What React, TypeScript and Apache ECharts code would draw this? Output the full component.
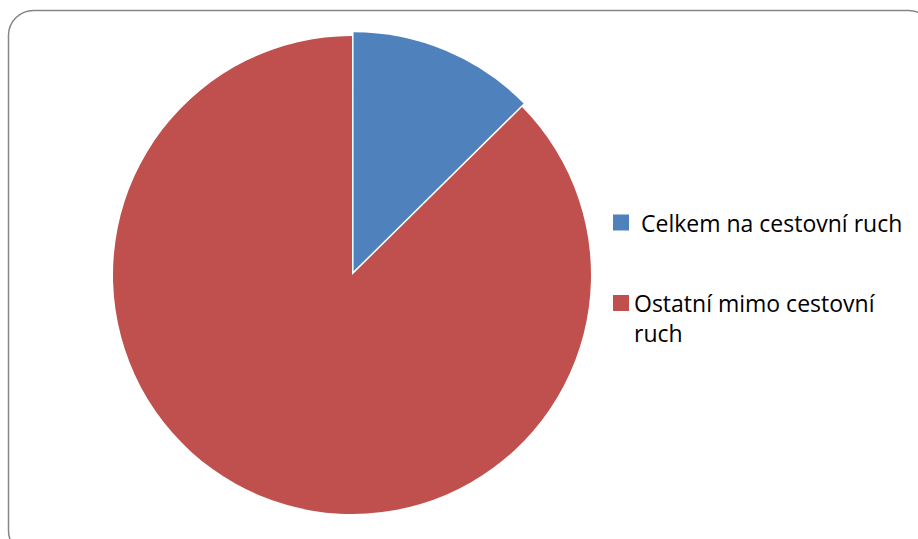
import React, { useEffect, useRef } from "react";
import * as echarts from "echarts";

const categories = ["Celkem na cestovní ruch", "Ostatní mimo cestovní ruch"];
const legendLabels = ["Celkem na cestovní ruch", " \nOstatní mimo cestovní\nruch"];
const values = [12.6, 87.4];
const colors = ["#4F81BD", "#C0504D"];

export default function App() {
  const ref = useRef<HTMLDivElement>(null);
  useEffect(() => {
    document.body.style.margin = "0";
    const chart = echarts.init(ref.current!, undefined, { renderer: "svg" });
    const font = "'Open Sans', 'Noto Sans', sans-serif";
    chart.setOption({
      animation: false,
      backgroundColor: "#ffffff",
      graphic: [
        {
          type: "rect",
          shape: { x: 8.5, y: 10.5, width: 925, height: 545, r: 25 },
          style: { fill: "none", stroke: "#868686", lineWidth: 1.5 },
          silent: true,
        },
      ],
      legend: [
        {
          data: [categories[0]],
          orient: "vertical",
          left: 613,
          top: 207.5,
          padding: 0,
          itemWidth: 16,
          itemHeight: 16,
          icon: "rect",
          selectedMode: false,
          formatter: () => legendLabels[0],
          textStyle: {
            fontFamily: font,
            fontSize: 23,
            lineHeight: 30,
            color: "#000",
            padding: [0, 0, 0, 7],
          },
        },
        {
          data: [categories[1]],
          orient: "vertical",
          left: 613,
          top: 258,
          padding: 0,
          itemWidth: 16,
          itemHeight: 16,
          icon: "rect",
          selectedMode: false,
          formatter: () => legendLabels[1],
          textStyle: {
            fontFamily: font,
            fontSize: 23,
            lineHeight: 30,
            color: "#000",
            padding: [0, 0, 0, 0],
          },
        },
      ],
      series: [
        {
          type: "pie",
          center: [352, 275],
          radius: 239,
          startAngle: 90,
          clockwise: true,
          selectedMode: "multiple",
          selectedOffset: 4,
          label: { show: false },
          labelLine: { show: false },
          emphasis: { disabled: true },
          itemStyle: { borderWidth: 0 },
          data: categories.map((name, i) => ({
            name,
            value: values[i],
            selected: i === 0,
            itemStyle: { color: colors[i] },
          })),
        },
      ],
    });
    return () => chart.dispose();
  }, []);
  return <div ref={ref} style={{ width: 918, height: 539 }} />;
}
